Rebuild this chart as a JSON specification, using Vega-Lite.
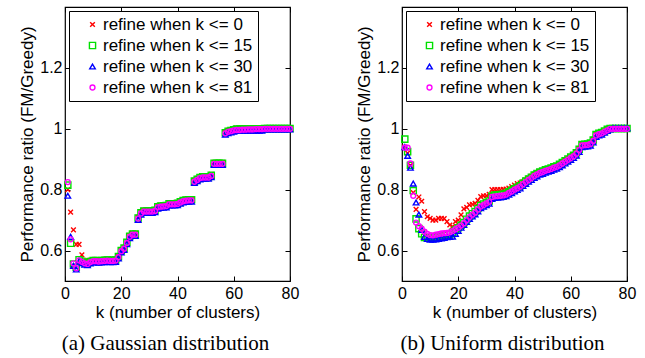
{
"$schema": "https://vega.github.io/schema/vega-lite/v6.json",
"background": "white",
"padding": {"left": 18, "top": 5, "right": 5, "bottom": 3},
"data": {"values": [
{"p":"a","s":0,"k":1,"v":0.80},{"p":"a","s":0,"k":2,"v":0.726},{"p":"a","s":0,"k":3,"v":0.668},{"p":"a","s":0,"k":4,"v":0.62},{"p":"a","s":0,"k":5,"v":0.62},{"p":"a","s":0,"k":6,"v":0.586},{"p":"a","s":0,"k":7,"v":0.566},{"p":"a","s":0,"k":8,"v":0.566},{"p":"a","s":0,"k":9,"v":0.568},{"p":"a","s":0,"k":10,"v":0.57},
{"p":"a","s":0,"k":11,"v":0.57},{"p":"a","s":0,"k":12,"v":0.569},{"p":"a","s":0,"k":13,"v":0.57},{"p":"a","s":0,"k":14,"v":0.571},{"p":"a","s":0,"k":15,"v":0.572},{"p":"a","s":0,"k":16,"v":0.571},{"p":"a","s":0,"k":17,"v":0.571},{"p":"a","s":0,"k":18,"v":0.572},{"p":"a","s":0,"k":19,"v":0.582},{"p":"a","s":0,"k":20,"v":0.602},
{"p":"a","s":0,"k":21,"v":0.61},{"p":"a","s":0,"k":22,"v":0.629},{"p":"a","s":0,"k":23,"v":0.649},{"p":"a","s":0,"k":24,"v":0.657},{"p":"a","s":0,"k":25,"v":0.657},{"p":"a","s":0,"k":26,"v":0.709},{"p":"a","s":0,"k":27,"v":0.727},{"p":"a","s":0,"k":28,"v":0.733},{"p":"a","s":0,"k":29,"v":0.733},{"p":"a","s":0,"k":30,"v":0.733},
{"p":"a","s":0,"k":31,"v":0.733},{"p":"a","s":0,"k":32,"v":0.735},{"p":"a","s":0,"k":33,"v":0.747},{"p":"a","s":0,"k":34,"v":0.749},{"p":"a","s":0,"k":35,"v":0.75},{"p":"a","s":0,"k":36,"v":0.751},{"p":"a","s":0,"k":37,"v":0.757},{"p":"a","s":0,"k":38,"v":0.757},{"p":"a","s":0,"k":39,"v":0.757},{"p":"a","s":0,"k":40,"v":0.758},
{"p":"a","s":0,"k":41,"v":0.763},{"p":"a","s":0,"k":42,"v":0.767},{"p":"a","s":0,"k":43,"v":0.769},{"p":"a","s":0,"k":44,"v":0.77},{"p":"a","s":0,"k":45,"v":0.77},{"p":"a","s":0,"k":46,"v":0.831},{"p":"a","s":0,"k":47,"v":0.837},{"p":"a","s":0,"k":48,"v":0.843},{"p":"a","s":0,"k":49,"v":0.845},{"p":"a","s":0,"k":50,"v":0.845},
{"p":"a","s":0,"k":51,"v":0.845},{"p":"a","s":0,"k":52,"v":0.85},{"p":"a","s":0,"k":53,"v":0.89},{"p":"a","s":0,"k":54,"v":0.89},{"p":"a","s":0,"k":55,"v":0.89},{"p":"a","s":0,"k":56,"v":0.89},{"p":"a","s":0,"k":57,"v":0.99},{"p":"a","s":0,"k":58,"v":0.995},{"p":"a","s":0,"k":59,"v":0.997},{"p":"a","s":0,"k":60,"v":1.0},
{"p":"a","s":0,"k":61,"v":1.002},{"p":"a","s":0,"k":62,"v":1.002},{"p":"a","s":0,"k":63,"v":1.002},{"p":"a","s":0,"k":64,"v":1.002},{"p":"a","s":0,"k":65,"v":1.002},{"p":"a","s":0,"k":66,"v":1.002},{"p":"a","s":0,"k":67,"v":1.002},{"p":"a","s":0,"k":68,"v":1.002},{"p":"a","s":0,"k":69,"v":1.002},{"p":"a","s":0,"k":70,"v":1.002},
{"p":"a","s":0,"k":71,"v":1.002},{"p":"a","s":0,"k":72,"v":1.002},{"p":"a","s":0,"k":73,"v":1.002},{"p":"a","s":0,"k":74,"v":1.002},{"p":"a","s":0,"k":75,"v":1.002},{"p":"a","s":0,"k":76,"v":1.002},{"p":"a","s":0,"k":77,"v":1.002},{"p":"a","s":0,"k":78,"v":1.002},{"p":"a","s":0,"k":79,"v":1.002},{"p":"a","s":0,"k":80,"v":1.002},

{"p":"a","s":15,"k":1,"v":0.815},{"p":"a","s":15,"k":2,"v":0.624},{"p":"a","s":15,"k":3,"v":0.556},{"p":"a","s":15,"k":4,"v":0.545},{"p":"a","s":15,"k":5,"v":0.57},{"p":"a","s":15,"k":6,"v":0.565},{"p":"a","s":15,"k":7,"v":0.56},{"p":"a","s":15,"k":8,"v":0.558},{"p":"a","s":15,"k":9,"v":0.564},{"p":"a","s":15,"k":10,"v":0.567},
{"p":"a","s":15,"k":11,"v":0.567},{"p":"a","s":15,"k":12,"v":0.566},{"p":"a","s":15,"k":13,"v":0.567},{"p":"a","s":15,"k":14,"v":0.568},{"p":"a","s":15,"k":15,"v":0.569},{"p":"a","s":15,"k":16,"v":0.568},{"p":"a","s":15,"k":17,"v":0.568},{"p":"a","s":15,"k":18,"v":0.569},{"p":"a","s":15,"k":19,"v":0.58},{"p":"a","s":15,"k":20,"v":0.6},
{"p":"a","s":15,"k":21,"v":0.608},{"p":"a","s":15,"k":22,"v":0.627},{"p":"a","s":15,"k":23,"v":0.647},{"p":"a","s":15,"k":24,"v":0.654},{"p":"a","s":15,"k":25,"v":0.654},{"p":"a","s":15,"k":26,"v":0.707},{"p":"a","s":15,"k":27,"v":0.724},{"p":"a","s":15,"k":28,"v":0.73},{"p":"a","s":15,"k":29,"v":0.73},{"p":"a","s":15,"k":30,"v":0.73},
{"p":"a","s":15,"k":31,"v":0.73},{"p":"a","s":15,"k":32,"v":0.732},{"p":"a","s":15,"k":33,"v":0.744},{"p":"a","s":15,"k":34,"v":0.746},{"p":"a","s":15,"k":35,"v":0.747},{"p":"a","s":15,"k":36,"v":0.748},{"p":"a","s":15,"k":37,"v":0.754},{"p":"a","s":15,"k":38,"v":0.754},{"p":"a","s":15,"k":39,"v":0.754},{"p":"a","s":15,"k":40,"v":0.755},
{"p":"a","s":15,"k":41,"v":0.76},{"p":"a","s":15,"k":42,"v":0.764},{"p":"a","s":15,"k":43,"v":0.766},{"p":"a","s":15,"k":44,"v":0.767},{"p":"a","s":15,"k":45,"v":0.767},{"p":"a","s":15,"k":46,"v":0.828},{"p":"a","s":15,"k":47,"v":0.834},{"p":"a","s":15,"k":48,"v":0.84},{"p":"a","s":15,"k":49,"v":0.842},{"p":"a","s":15,"k":50,"v":0.842},
{"p":"a","s":15,"k":51,"v":0.842},{"p":"a","s":15,"k":52,"v":0.847},{"p":"a","s":15,"k":53,"v":0.887},{"p":"a","s":15,"k":54,"v":0.887},{"p":"a","s":15,"k":55,"v":0.887},{"p":"a","s":15,"k":56,"v":0.887},{"p":"a","s":15,"k":57,"v":0.987},{"p":"a","s":15,"k":58,"v":0.992},{"p":"a","s":15,"k":59,"v":0.994},{"p":"a","s":15,"k":60,"v":0.997},
{"p":"a","s":15,"k":61,"v":0.999},{"p":"a","s":15,"k":62,"v":0.999},{"p":"a","s":15,"k":63,"v":0.999},{"p":"a","s":15,"k":64,"v":0.999},{"p":"a","s":15,"k":65,"v":0.999},{"p":"a","s":15,"k":66,"v":0.999},{"p":"a","s":15,"k":67,"v":0.999},{"p":"a","s":15,"k":68,"v":0.999},{"p":"a","s":15,"k":69,"v":0.999},{"p":"a","s":15,"k":70,"v":0.999},
{"p":"a","s":15,"k":71,"v":1.001},{"p":"a","s":15,"k":72,"v":1.001},{"p":"a","s":15,"k":73,"v":1.001},{"p":"a","s":15,"k":74,"v":1.001},{"p":"a","s":15,"k":75,"v":1.001},{"p":"a","s":15,"k":76,"v":1.001},{"p":"a","s":15,"k":77,"v":1.001},{"p":"a","s":15,"k":78,"v":1.001},{"p":"a","s":15,"k":79,"v":1.001},{"p":"a","s":15,"k":80,"v":1.001},

{"p":"a","s":30,"k":1,"v":0.78},{"p":"a","s":30,"k":2,"v":0.645},{"p":"a","s":30,"k":3,"v":0.55},{"p":"a","s":30,"k":4,"v":0.538},{"p":"a","s":30,"k":5,"v":0.564},{"p":"a","s":30,"k":6,"v":0.559},{"p":"a","s":30,"k":7,"v":0.554},{"p":"a","s":30,"k":8,"v":0.552},{"p":"a","s":30,"k":9,"v":0.558},{"p":"a","s":30,"k":10,"v":0.561},
{"p":"a","s":30,"k":11,"v":0.561},{"p":"a","s":30,"k":12,"v":0.56},{"p":"a","s":30,"k":13,"v":0.561},{"p":"a","s":30,"k":14,"v":0.562},{"p":"a","s":30,"k":15,"v":0.563},{"p":"a","s":30,"k":16,"v":0.562},{"p":"a","s":30,"k":17,"v":0.562},{"p":"a","s":30,"k":18,"v":0.563},{"p":"a","s":30,"k":19,"v":0.574},{"p":"a","s":30,"k":20,"v":0.594},
{"p":"a","s":30,"k":21,"v":0.602},{"p":"a","s":30,"k":22,"v":0.621},{"p":"a","s":30,"k":23,"v":0.641},{"p":"a","s":30,"k":24,"v":0.648},{"p":"a","s":30,"k":25,"v":0.648},{"p":"a","s":30,"k":26,"v":0.701},{"p":"a","s":30,"k":27,"v":0.718},{"p":"a","s":30,"k":28,"v":0.724},{"p":"a","s":30,"k":29,"v":0.724},{"p":"a","s":30,"k":30,"v":0.724},
{"p":"a","s":30,"k":31,"v":0.724},{"p":"a","s":30,"k":32,"v":0.726},{"p":"a","s":30,"k":33,"v":0.738},{"p":"a","s":30,"k":34,"v":0.74},{"p":"a","s":30,"k":35,"v":0.741},{"p":"a","s":30,"k":36,"v":0.742},{"p":"a","s":30,"k":37,"v":0.748},{"p":"a","s":30,"k":38,"v":0.748},{"p":"a","s":30,"k":39,"v":0.748},{"p":"a","s":30,"k":40,"v":0.749},
{"p":"a","s":30,"k":41,"v":0.754},{"p":"a","s":30,"k":42,"v":0.758},{"p":"a","s":30,"k":43,"v":0.76},{"p":"a","s":30,"k":44,"v":0.761},{"p":"a","s":30,"k":45,"v":0.761},{"p":"a","s":30,"k":46,"v":0.822},{"p":"a","s":30,"k":47,"v":0.828},{"p":"a","s":30,"k":48,"v":0.834},{"p":"a","s":30,"k":49,"v":0.836},{"p":"a","s":30,"k":50,"v":0.836},
{"p":"a","s":30,"k":51,"v":0.836},{"p":"a","s":30,"k":52,"v":0.841},{"p":"a","s":30,"k":53,"v":0.881},{"p":"a","s":30,"k":54,"v":0.881},{"p":"a","s":30,"k":55,"v":0.881},{"p":"a","s":30,"k":56,"v":0.881},{"p":"a","s":30,"k":57,"v":0.981},{"p":"a","s":30,"k":58,"v":0.986},{"p":"a","s":30,"k":59,"v":0.988},{"p":"a","s":30,"k":60,"v":0.991},
{"p":"a","s":30,"k":61,"v":0.994},{"p":"a","s":30,"k":62,"v":0.994},{"p":"a","s":30,"k":63,"v":0.994},{"p":"a","s":30,"k":64,"v":0.994},{"p":"a","s":30,"k":65,"v":0.994},{"p":"a","s":30,"k":66,"v":0.994},{"p":"a","s":30,"k":67,"v":0.994},{"p":"a","s":30,"k":68,"v":0.994},{"p":"a","s":30,"k":69,"v":0.994},{"p":"a","s":30,"k":70,"v":0.994},
{"p":"a","s":30,"k":71,"v":0.998},{"p":"a","s":30,"k":72,"v":0.998},{"p":"a","s":30,"k":73,"v":0.998},{"p":"a","s":30,"k":74,"v":0.998},{"p":"a","s":30,"k":75,"v":0.998},{"p":"a","s":30,"k":76,"v":0.998},{"p":"a","s":30,"k":77,"v":0.998},{"p":"a","s":30,"k":78,"v":0.998},{"p":"a","s":30,"k":79,"v":0.998},{"p":"a","s":30,"k":80,"v":0.998},

{"p":"a","s":81,"k":1,"v":0.825},{"p":"a","s":81,"k":2,"v":0.637},{"p":"a","s":81,"k":3,"v":0.558},{"p":"a","s":81,"k":4,"v":0.542},{"p":"a","s":81,"k":5,"v":0.568},{"p":"a","s":81,"k":6,"v":0.563},{"p":"a","s":81,"k":7,"v":0.558},{"p":"a","s":81,"k":8,"v":0.556},{"p":"a","s":81,"k":9,"v":0.562},{"p":"a","s":81,"k":10,"v":0.565},
{"p":"a","s":81,"k":11,"v":0.565},{"p":"a","s":81,"k":12,"v":0.564},{"p":"a","s":81,"k":13,"v":0.565},{"p":"a","s":81,"k":14,"v":0.566},{"p":"a","s":81,"k":15,"v":0.567},{"p":"a","s":81,"k":16,"v":0.566},{"p":"a","s":81,"k":17,"v":0.566},{"p":"a","s":81,"k":18,"v":0.567},{"p":"a","s":81,"k":19,"v":0.578},{"p":"a","s":81,"k":20,"v":0.598},
{"p":"a","s":81,"k":21,"v":0.606},{"p":"a","s":81,"k":22,"v":0.625},{"p":"a","s":81,"k":23,"v":0.645},{"p":"a","s":81,"k":24,"v":0.652},{"p":"a","s":81,"k":25,"v":0.652},{"p":"a","s":81,"k":26,"v":0.705},{"p":"a","s":81,"k":27,"v":0.722},{"p":"a","s":81,"k":28,"v":0.728},{"p":"a","s":81,"k":29,"v":0.728},{"p":"a","s":81,"k":30,"v":0.728},
{"p":"a","s":81,"k":31,"v":0.728},{"p":"a","s":81,"k":32,"v":0.73},{"p":"a","s":81,"k":33,"v":0.742},{"p":"a","s":81,"k":34,"v":0.744},{"p":"a","s":81,"k":35,"v":0.745},{"p":"a","s":81,"k":36,"v":0.746},{"p":"a","s":81,"k":37,"v":0.752},{"p":"a","s":81,"k":38,"v":0.752},{"p":"a","s":81,"k":39,"v":0.752},{"p":"a","s":81,"k":40,"v":0.753},
{"p":"a","s":81,"k":41,"v":0.758},{"p":"a","s":81,"k":42,"v":0.762},{"p":"a","s":81,"k":43,"v":0.764},{"p":"a","s":81,"k":44,"v":0.765},{"p":"a","s":81,"k":45,"v":0.765},{"p":"a","s":81,"k":46,"v":0.826},{"p":"a","s":81,"k":47,"v":0.832},{"p":"a","s":81,"k":48,"v":0.838},{"p":"a","s":81,"k":49,"v":0.84},{"p":"a","s":81,"k":50,"v":0.84},
{"p":"a","s":81,"k":51,"v":0.84},{"p":"a","s":81,"k":52,"v":0.845},{"p":"a","s":81,"k":53,"v":0.885},{"p":"a","s":81,"k":54,"v":0.885},{"p":"a","s":81,"k":55,"v":0.885},{"p":"a","s":81,"k":56,"v":0.885},{"p":"a","s":81,"k":57,"v":0.985},{"p":"a","s":81,"k":58,"v":0.99},{"p":"a","s":81,"k":59,"v":0.992},{"p":"a","s":81,"k":60,"v":0.995},
{"p":"a","s":81,"k":61,"v":0.996},{"p":"a","s":81,"k":62,"v":0.996},{"p":"a","s":81,"k":63,"v":0.997},{"p":"a","s":81,"k":64,"v":0.997},{"p":"a","s":81,"k":65,"v":0.998},{"p":"a","s":81,"k":66,"v":0.998},{"p":"a","s":81,"k":67,"v":0.998},{"p":"a","s":81,"k":68,"v":0.999},{"p":"a","s":81,"k":69,"v":0.999},{"p":"a","s":81,"k":70,"v":0.999},
{"p":"a","s":81,"k":71,"v":1.0},{"p":"a","s":81,"k":72,"v":1.0},{"p":"a","s":81,"k":73,"v":1.0},{"p":"a","s":81,"k":74,"v":1.0},{"p":"a","s":81,"k":75,"v":1.0},{"p":"a","s":81,"k":76,"v":1.0},{"p":"a","s":81,"k":77,"v":1.0},{"p":"a","s":81,"k":78,"v":1.0},{"p":"a","s":81,"k":79,"v":1.0},{"p":"a","s":81,"k":80,"v":1.0},

{"p":"b","s":0,"k":1,"v":0.94},{"p":"b","s":0,"k":2,"v":0.92},{"p":"b","s":0,"k":3,"v":0.88},{"p":"b","s":0,"k":4,"v":0.79},{"p":"b","s":0,"k":5,"v":0.735},{"p":"b","s":0,"k":6,"v":0.776},{"p":"b","s":0,"k":7,"v":0.762},{"p":"b","s":0,"k":8,"v":0.728},{"p":"b","s":0,"k":9,"v":0.711},{"p":"b","s":0,"k":10,"v":0.706},
{"p":"b","s":0,"k":11,"v":0.70},{"p":"b","s":0,"k":12,"v":0.70},{"p":"b","s":0,"k":13,"v":0.706},{"p":"b","s":0,"k":14,"v":0.706},{"p":"b","s":0,"k":15,"v":0.705},{"p":"b","s":0,"k":16,"v":0.695},{"p":"b","s":0,"k":17,"v":0.684},{"p":"b","s":0,"k":18,"v":0.679},{"p":"b","s":0,"k":19,"v":0.695},{"p":"b","s":0,"k":20,"v":0.70},
{"p":"b","s":0,"k":21,"v":0.717},{"p":"b","s":0,"k":22,"v":0.737},{"p":"b","s":0,"k":23,"v":0.742},{"p":"b","s":0,"k":24,"v":0.75},{"p":"b","s":0,"k":25,"v":0.752},{"p":"b","s":0,"k":26,"v":0.755},{"p":"b","s":0,"k":27,"v":0.765},{"p":"b","s":0,"k":28,"v":0.777},{"p":"b","s":0,"k":29,"v":0.78},{"p":"b","s":0,"k":30,"v":0.78},
{"p":"b","s":0,"k":31,"v":0.785},{"p":"b","s":0,"k":32,"v":0.80},{"p":"b","s":0,"k":33,"v":0.80},{"p":"b","s":0,"k":34,"v":0.80},{"p":"b","s":0,"k":35,"v":0.80},{"p":"b","s":0,"k":36,"v":0.801},{"p":"b","s":0,"k":37,"v":0.802},{"p":"b","s":0,"k":38,"v":0.805},{"p":"b","s":0,"k":39,"v":0.81},{"p":"b","s":0,"k":40,"v":0.815},
{"p":"b","s":0,"k":41,"v":0.82},{"p":"b","s":0,"k":42,"v":0.822},{"p":"b","s":0,"k":43,"v":0.826},{"p":"b","s":0,"k":44,"v":0.832},{"p":"b","s":0,"k":45,"v":0.838},{"p":"b","s":0,"k":46,"v":0.844},{"p":"b","s":0,"k":47,"v":0.85},{"p":"b","s":0,"k":48,"v":0.855},{"p":"b","s":0,"k":49,"v":0.86},{"p":"b","s":0,"k":50,"v":0.862},
{"p":"b","s":0,"k":51,"v":0.866},{"p":"b","s":0,"k":52,"v":0.869},{"p":"b","s":0,"k":53,"v":0.872},{"p":"b","s":0,"k":54,"v":0.876},{"p":"b","s":0,"k":55,"v":0.88},{"p":"b","s":0,"k":56,"v":0.884},{"p":"b","s":0,"k":57,"v":0.89},{"p":"b","s":0,"k":58,"v":0.896},{"p":"b","s":0,"k":59,"v":0.902},{"p":"b","s":0,"k":60,"v":0.908},
{"p":"b","s":0,"k":61,"v":0.914},{"p":"b","s":0,"k":62,"v":0.922},{"p":"b","s":0,"k":63,"v":0.935},{"p":"b","s":0,"k":64,"v":0.95},{"p":"b","s":0,"k":65,"v":0.951},{"p":"b","s":0,"k":66,"v":0.951},{"p":"b","s":0,"k":67,"v":0.954},{"p":"b","s":0,"k":68,"v":0.965},{"p":"b","s":0,"k":69,"v":0.982},{"p":"b","s":0,"k":70,"v":0.986},
{"p":"b","s":0,"k":71,"v":0.988},{"p":"b","s":0,"k":72,"v":0.993},{"p":"b","s":0,"k":73,"v":0.998},{"p":"b","s":0,"k":74,"v":1.002},{"p":"b","s":0,"k":75,"v":1.002},{"p":"b","s":0,"k":76,"v":1.002},{"p":"b","s":0,"k":77,"v":1.002},{"p":"b","s":0,"k":78,"v":1.002},{"p":"b","s":0,"k":79,"v":1.002},{"p":"b","s":0,"k":80,"v":1.002},

{"p":"b","s":15,"k":1,"v":0.966},{"p":"b","s":15,"k":2,"v":0.925},{"p":"b","s":15,"k":3,"v":0.88},{"p":"b","s":15,"k":4,"v":0.797},{"p":"b","s":15,"k":5,"v":0.704},{"p":"b","s":15,"k":6,"v":0.672},{"p":"b","s":15,"k":7,"v":0.655},{"p":"b","s":15,"k":8,"v":0.643},{"p":"b","s":15,"k":9,"v":0.642},{"p":"b","s":15,"k":10,"v":0.641},
{"p":"b","s":15,"k":11,"v":0.642},{"p":"b","s":15,"k":12,"v":0.644},{"p":"b","s":15,"k":13,"v":0.646},{"p":"b","s":15,"k":14,"v":0.648},{"p":"b","s":15,"k":15,"v":0.65},{"p":"b","s":15,"k":16,"v":0.652},{"p":"b","s":15,"k":17,"v":0.654},{"p":"b","s":15,"k":18,"v":0.66},{"p":"b","s":15,"k":19,"v":0.668},{"p":"b","s":15,"k":20,"v":0.675},
{"p":"b","s":15,"k":21,"v":0.683},{"p":"b","s":15,"k":22,"v":0.692},{"p":"b","s":15,"k":23,"v":0.703},{"p":"b","s":15,"k":24,"v":0.713},{"p":"b","s":15,"k":25,"v":0.721},{"p":"b","s":15,"k":26,"v":0.728},{"p":"b","s":15,"k":27,"v":0.738},{"p":"b","s":15,"k":28,"v":0.748},{"p":"b","s":15,"k":29,"v":0.753},{"p":"b","s":15,"k":30,"v":0.758},
{"p":"b","s":15,"k":31,"v":0.763},{"p":"b","s":15,"k":32,"v":0.779},{"p":"b","s":15,"k":33,"v":0.782},{"p":"b","s":15,"k":34,"v":0.783},{"p":"b","s":15,"k":35,"v":0.784},{"p":"b","s":15,"k":36,"v":0.785},{"p":"b","s":15,"k":37,"v":0.788},{"p":"b","s":15,"k":38,"v":0.793},{"p":"b","s":15,"k":39,"v":0.798},{"p":"b","s":15,"k":40,"v":0.803},
{"p":"b","s":15,"k":41,"v":0.808},{"p":"b","s":15,"k":42,"v":0.813},{"p":"b","s":15,"k":43,"v":0.821},{"p":"b","s":15,"k":44,"v":0.828},{"p":"b","s":15,"k":45,"v":0.835},{"p":"b","s":15,"k":46,"v":0.841},{"p":"b","s":15,"k":47,"v":0.848},{"p":"b","s":15,"k":48,"v":0.853},{"p":"b","s":15,"k":49,"v":0.858},{"p":"b","s":15,"k":50,"v":0.861},
{"p":"b","s":15,"k":51,"v":0.865},{"p":"b","s":15,"k":52,"v":0.868},{"p":"b","s":15,"k":53,"v":0.871},{"p":"b","s":15,"k":54,"v":0.875},{"p":"b","s":15,"k":55,"v":0.878},{"p":"b","s":15,"k":56,"v":0.883},{"p":"b","s":15,"k":57,"v":0.889},{"p":"b","s":15,"k":58,"v":0.895},{"p":"b","s":15,"k":59,"v":0.901},{"p":"b","s":15,"k":60,"v":0.907},
{"p":"b","s":15,"k":61,"v":0.913},{"p":"b","s":15,"k":62,"v":0.921},{"p":"b","s":15,"k":63,"v":0.933},{"p":"b","s":15,"k":64,"v":0.948},{"p":"b","s":15,"k":65,"v":0.949},{"p":"b","s":15,"k":66,"v":0.95},{"p":"b","s":15,"k":67,"v":0.953},{"p":"b","s":15,"k":68,"v":0.963},{"p":"b","s":15,"k":69,"v":0.981},{"p":"b","s":15,"k":70,"v":0.985},
{"p":"b","s":15,"k":71,"v":0.988},{"p":"b","s":15,"k":72,"v":0.993},{"p":"b","s":15,"k":73,"v":0.998},{"p":"b","s":15,"k":74,"v":1.001},{"p":"b","s":15,"k":75,"v":1.001},{"p":"b","s":15,"k":76,"v":1.001},{"p":"b","s":15,"k":77,"v":1.001},{"p":"b","s":15,"k":78,"v":1.001},{"p":"b","s":15,"k":79,"v":1.001},{"p":"b","s":15,"k":80,"v":1.001},

{"p":"b","s":30,"k":1,"v":0.94},{"p":"b","s":30,"k":2,"v":0.911},{"p":"b","s":30,"k":3,"v":0.872},{"p":"b","s":30,"k":4,"v":0.82},{"p":"b","s":30,"k":5,"v":0.758},{"p":"b","s":30,"k":6,"v":0.718},{"p":"b","s":30,"k":7,"v":0.668},{"p":"b","s":30,"k":8,"v":0.645},{"p":"b","s":30,"k":9,"v":0.638},{"p":"b","s":30,"k":10,"v":0.636},
{"p":"b","s":30,"k":11,"v":0.636},{"p":"b","s":30,"k":12,"v":0.637},{"p":"b","s":30,"k":13,"v":0.638},{"p":"b","s":30,"k":14,"v":0.64},{"p":"b","s":30,"k":15,"v":0.642},{"p":"b","s":30,"k":16,"v":0.644},{"p":"b","s":30,"k":17,"v":0.645},{"p":"b","s":30,"k":18,"v":0.646},{"p":"b","s":30,"k":19,"v":0.655},{"p":"b","s":30,"k":20,"v":0.665},
{"p":"b","s":30,"k":21,"v":0.675},{"p":"b","s":30,"k":22,"v":0.684},{"p":"b","s":30,"k":23,"v":0.694},{"p":"b","s":30,"k":24,"v":0.704},{"p":"b","s":30,"k":25,"v":0.712},{"p":"b","s":30,"k":26,"v":0.719},{"p":"b","s":30,"k":27,"v":0.729},{"p":"b","s":30,"k":28,"v":0.739},{"p":"b","s":30,"k":29,"v":0.744},{"p":"b","s":30,"k":30,"v":0.749},
{"p":"b","s":30,"k":31,"v":0.754},{"p":"b","s":30,"k":32,"v":0.77},{"p":"b","s":30,"k":33,"v":0.773},{"p":"b","s":30,"k":34,"v":0.774},{"p":"b","s":30,"k":35,"v":0.775},{"p":"b","s":30,"k":36,"v":0.776},{"p":"b","s":30,"k":37,"v":0.779},{"p":"b","s":30,"k":38,"v":0.784},{"p":"b","s":30,"k":39,"v":0.789},{"p":"b","s":30,"k":40,"v":0.794},
{"p":"b","s":30,"k":41,"v":0.799},{"p":"b","s":30,"k":42,"v":0.804},{"p":"b","s":30,"k":43,"v":0.812},{"p":"b","s":30,"k":44,"v":0.819},{"p":"b","s":30,"k":45,"v":0.826},{"p":"b","s":30,"k":46,"v":0.832},{"p":"b","s":30,"k":47,"v":0.839},{"p":"b","s":30,"k":48,"v":0.844},{"p":"b","s":30,"k":49,"v":0.849},{"p":"b","s":30,"k":50,"v":0.852},
{"p":"b","s":30,"k":51,"v":0.856},{"p":"b","s":30,"k":52,"v":0.859},{"p":"b","s":30,"k":53,"v":0.862},{"p":"b","s":30,"k":54,"v":0.866},{"p":"b","s":30,"k":55,"v":0.869},{"p":"b","s":30,"k":56,"v":0.874},{"p":"b","s":30,"k":57,"v":0.88},{"p":"b","s":30,"k":58,"v":0.886},{"p":"b","s":30,"k":59,"v":0.892},{"p":"b","s":30,"k":60,"v":0.898},
{"p":"b","s":30,"k":61,"v":0.904},{"p":"b","s":30,"k":62,"v":0.912},{"p":"b","s":30,"k":63,"v":0.924},{"p":"b","s":30,"k":64,"v":0.94},{"p":"b","s":30,"k":65,"v":0.941},{"p":"b","s":30,"k":66,"v":0.942},{"p":"b","s":30,"k":67,"v":0.945},{"p":"b","s":30,"k":68,"v":0.955},{"p":"b","s":30,"k":69,"v":0.973},{"p":"b","s":30,"k":70,"v":0.978},
{"p":"b","s":30,"k":71,"v":0.981},{"p":"b","s":30,"k":72,"v":0.987},{"p":"b","s":30,"k":73,"v":0.993},{"p":"b","s":30,"k":74,"v":0.998},{"p":"b","s":30,"k":75,"v":1.002},{"p":"b","s":30,"k":76,"v":1.002},{"p":"b","s":30,"k":77,"v":1.002},{"p":"b","s":30,"k":78,"v":1.002},{"p":"b","s":30,"k":79,"v":1.002},{"p":"b","s":30,"k":80,"v":1.002},

{"p":"b","s":81,"k":1,"v":0.938},{"p":"b","s":81,"k":2,"v":0.938},{"p":"b","s":81,"k":3,"v":0.886},{"p":"b","s":81,"k":4,"v":0.78},{"p":"b","s":81,"k":5,"v":0.692},{"p":"b","s":81,"k":6,"v":0.68},{"p":"b","s":81,"k":7,"v":0.672},{"p":"b","s":81,"k":8,"v":0.662},{"p":"b","s":81,"k":9,"v":0.655},{"p":"b","s":81,"k":10,"v":0.651},
{"p":"b","s":81,"k":11,"v":0.65},{"p":"b","s":81,"k":12,"v":0.652},{"p":"b","s":81,"k":13,"v":0.654},{"p":"b","s":81,"k":14,"v":0.656},{"p":"b","s":81,"k":15,"v":0.657},{"p":"b","s":81,"k":16,"v":0.658},{"p":"b","s":81,"k":17,"v":0.66},{"p":"b","s":81,"k":18,"v":0.664},{"p":"b","s":81,"k":19,"v":0.67},{"p":"b","s":81,"k":20,"v":0.675},
{"p":"b","s":81,"k":21,"v":0.682},{"p":"b","s":81,"k":22,"v":0.69},{"p":"b","s":81,"k":23,"v":0.70},{"p":"b","s":81,"k":24,"v":0.71},{"p":"b","s":81,"k":25,"v":0.718},{"p":"b","s":81,"k":26,"v":0.725},{"p":"b","s":81,"k":27,"v":0.735},{"p":"b","s":81,"k":28,"v":0.745},{"p":"b","s":81,"k":29,"v":0.75},{"p":"b","s":81,"k":30,"v":0.755},
{"p":"b","s":81,"k":31,"v":0.76},{"p":"b","s":81,"k":32,"v":0.776},{"p":"b","s":81,"k":33,"v":0.778},{"p":"b","s":81,"k":34,"v":0.779},{"p":"b","s":81,"k":35,"v":0.78},{"p":"b","s":81,"k":36,"v":0.781},{"p":"b","s":81,"k":37,"v":0.784},{"p":"b","s":81,"k":38,"v":0.789},{"p":"b","s":81,"k":39,"v":0.794},{"p":"b","s":81,"k":40,"v":0.80},
{"p":"b","s":81,"k":41,"v":0.805},{"p":"b","s":81,"k":42,"v":0.81},{"p":"b","s":81,"k":43,"v":0.818},{"p":"b","s":81,"k":44,"v":0.825},{"p":"b","s":81,"k":45,"v":0.832},{"p":"b","s":81,"k":46,"v":0.838},{"p":"b","s":81,"k":47,"v":0.845},{"p":"b","s":81,"k":48,"v":0.85},{"p":"b","s":81,"k":49,"v":0.855},{"p":"b","s":81,"k":50,"v":0.858},
{"p":"b","s":81,"k":51,"v":0.862},{"p":"b","s":81,"k":52,"v":0.865},{"p":"b","s":81,"k":53,"v":0.868},{"p":"b","s":81,"k":54,"v":0.872},{"p":"b","s":81,"k":55,"v":0.875},{"p":"b","s":81,"k":56,"v":0.88},{"p":"b","s":81,"k":57,"v":0.886},{"p":"b","s":81,"k":58,"v":0.892},{"p":"b","s":81,"k":59,"v":0.898},{"p":"b","s":81,"k":60,"v":0.904},
{"p":"b","s":81,"k":61,"v":0.91},{"p":"b","s":81,"k":62,"v":0.918},{"p":"b","s":81,"k":63,"v":0.93},{"p":"b","s":81,"k":64,"v":0.945},{"p":"b","s":81,"k":65,"v":0.946},{"p":"b","s":81,"k":66,"v":0.947},{"p":"b","s":81,"k":67,"v":0.95},{"p":"b","s":81,"k":68,"v":0.96},{"p":"b","s":81,"k":69,"v":0.978},{"p":"b","s":81,"k":70,"v":0.982},
{"p":"b","s":81,"k":71,"v":0.985},{"p":"b","s":81,"k":72,"v":0.99},{"p":"b","s":81,"k":73,"v":0.995},{"p":"b","s":81,"k":74,"v":1.0},{"p":"b","s":81,"k":75,"v":1.0},{"p":"b","s":81,"k":76,"v":1.0},{"p":"b","s":81,"k":77,"v":1.0},{"p":"b","s":81,"k":78,"v":1.0},{"p":"b","s":81,"k":79,"v":1.0},{"p":"b","s":81,"k":80,"v":1.0}
]},
"config": {
  "font": "Liberation Sans",
  "view": {"stroke": "#000", "strokeWidth": 1.2},
  "axis": {"grid": false, "domain": false, "tickColor": "#000", "tickSize": 5, "offset": -5, "tickWidth": 1, "labelFlush": false, "labelFontSize": 16, "labelColor": "#000", "labelFont": "Liberation Sans", "titleFont": "Liberation Sans", "titleFontSize": 17, "titleFontWeight": "normal", "titleColor": "#000"},
  "legend": {"orient": "top-left", "offset": 4, "fillColor": "#fff", "strokeColor": "#000", "padding": 5, "labelFontSize": 17, "labelFont": "Liberation Sans", "labelColor": "#000", "symbolOffset": 10, "labelOffset": 2, "rowPadding": 3, "symbolStrokeWidth": 1.4},
  "title": {"font": "Liberation Serif", "fontSize": 21, "fontWeight": "normal", "color": "#000"}
},
"spacing": 55,
"resolve": {"scale": {"color": "independent", "shape": "independent", "size": "independent"}, "legend": {"color": "independent", "shape": "independent", "size": "independent"}},
"hconcat": [
{
  "width": 225, "height": 274,
  "title": {"text": "(a) Gaussian distribution", "orient": "bottom", "dx": -12, "offset": 13},
  "transform": [{"filter": "datum.p == 'a'"}],
  "layer": [
    {"mark": {"type": "point", "filled": false, "strokeWidth": 1.4, "opacity": 1},
     "encoding": {
      "x": {"field": "k", "type": "quantitative", "scale": {"domain": [0, 80], "nice": false}, "axis": {"values": [0, 20, 40, 60, 80], "title": "k (number of clusters)", "labelPadding": 4, "titlePadding": 3}},
      "y": {"field": "v", "type": "quantitative", "scale": {"domain": [0.5, 1.4], "nice": false, "zero": false}, "axis": {"values": [0.6, 0.8, 1, 1.2], "format": "~g", "title": "Performance ratio (FM/Greedy)", "labelPadding": 3, "titlePadding": 3}},
      "color": {"field": "s", "type": "nominal", "scale": {"domain": [0, 15, 30, 81], "range": ["#ff0000", "#00e000", "#0000ff", "#ff00ff"]}, "legend": {"title": null, "labelFontSize": 17, "labelExpr": "'refine when k <= ' + datum.label"}},
      "shape": {"field": "s", "type": "nominal", "scale": {"domain": [0, 15, 30, 81], "range": ["M-0.7,-0.7L0.7,0.7M-0.7,0.7L0.7,-0.7", "square", "triangle-up", "circle"]}, "legend": {"title": null, "labelFontSize": 17, "labelExpr": "'refine when k <= ' + datum.label"}},
      "size": {"field": "s", "type": "nominal", "scale": {"domain": [0, 15, 30, 81], "range": [45, 24, 38, 34]}, "legend": {"title": null, "labelFontSize": 17, "labelExpr": "'refine when k <= ' + datum.label"}}
     }},
    {"mark": {"type": "point", "opacity": 0},
     "encoding": {
      "x": {"field": "k", "type": "quantitative", "axis": {"orient": "top", "values": [0, 20, 40, 60, 80], "labels": false, "title": null}},
      "y": {"field": "v", "type": "quantitative", "axis": {"orient": "right", "values": [0.6, 0.8, 1, 1.2], "labels": false, "title": null}}
     }}
  ],
  "resolve": {"axis": {"x": "independent", "y": "independent"}}
},
{
  "width": 225, "height": 274,
  "title": {"text": "(b) Uniform distribution", "orient": "bottom", "dx": -12, "offset": 13},
  "transform": [{"filter": "datum.p == 'b'"}],
  "layer": [
    {"mark": {"type": "point", "filled": false, "strokeWidth": 1.4, "opacity": 1},
     "encoding": {
      "x": {"field": "k", "type": "quantitative", "scale": {"domain": [0, 80], "nice": false}, "axis": {"values": [0, 20, 40, 60, 80], "title": "k (number of clusters)", "labelPadding": 4, "titlePadding": 3}},
      "y": {"field": "v", "type": "quantitative", "scale": {"domain": [0.5, 1.4], "nice": false, "zero": false}, "axis": {"values": [0.6, 0.8, 1, 1.2], "format": "~g", "title": "Performance ratio (FM/Greedy)", "labelPadding": 3, "titlePadding": 3}},
      "color": {"field": "s", "type": "nominal", "scale": {"domain": [0, 15, 30, 81], "range": ["#ff0000", "#00e000", "#0000ff", "#ff00ff"]}, "legend": {"title": null, "labelFontSize": 17, "labelExpr": "'refine when k <= ' + datum.label"}},
      "shape": {"field": "s", "type": "nominal", "scale": {"domain": [0, 15, 30, 81], "range": ["M-0.7,-0.7L0.7,0.7M-0.7,0.7L0.7,-0.7", "square", "triangle-up", "circle"]}, "legend": {"title": null, "labelFontSize": 17, "labelExpr": "'refine when k <= ' + datum.label"}},
      "size": {"field": "s", "type": "nominal", "scale": {"domain": [0, 15, 30, 81], "range": [45, 24, 38, 34]}, "legend": {"title": null, "labelFontSize": 17, "labelExpr": "'refine when k <= ' + datum.label"}}
     }},
    {"mark": {"type": "point", "opacity": 0},
     "encoding": {
      "x": {"field": "k", "type": "quantitative", "axis": {"orient": "top", "values": [0, 20, 40, 60, 80], "labels": false, "title": null}},
      "y": {"field": "v", "type": "quantitative", "axis": {"orient": "right", "values": [0.6, 0.8, 1, 1.2], "labels": false, "title": null}}
     }}
  ],
  "resolve": {"axis": {"x": "independent", "y": "independent"}}
}
]
}
